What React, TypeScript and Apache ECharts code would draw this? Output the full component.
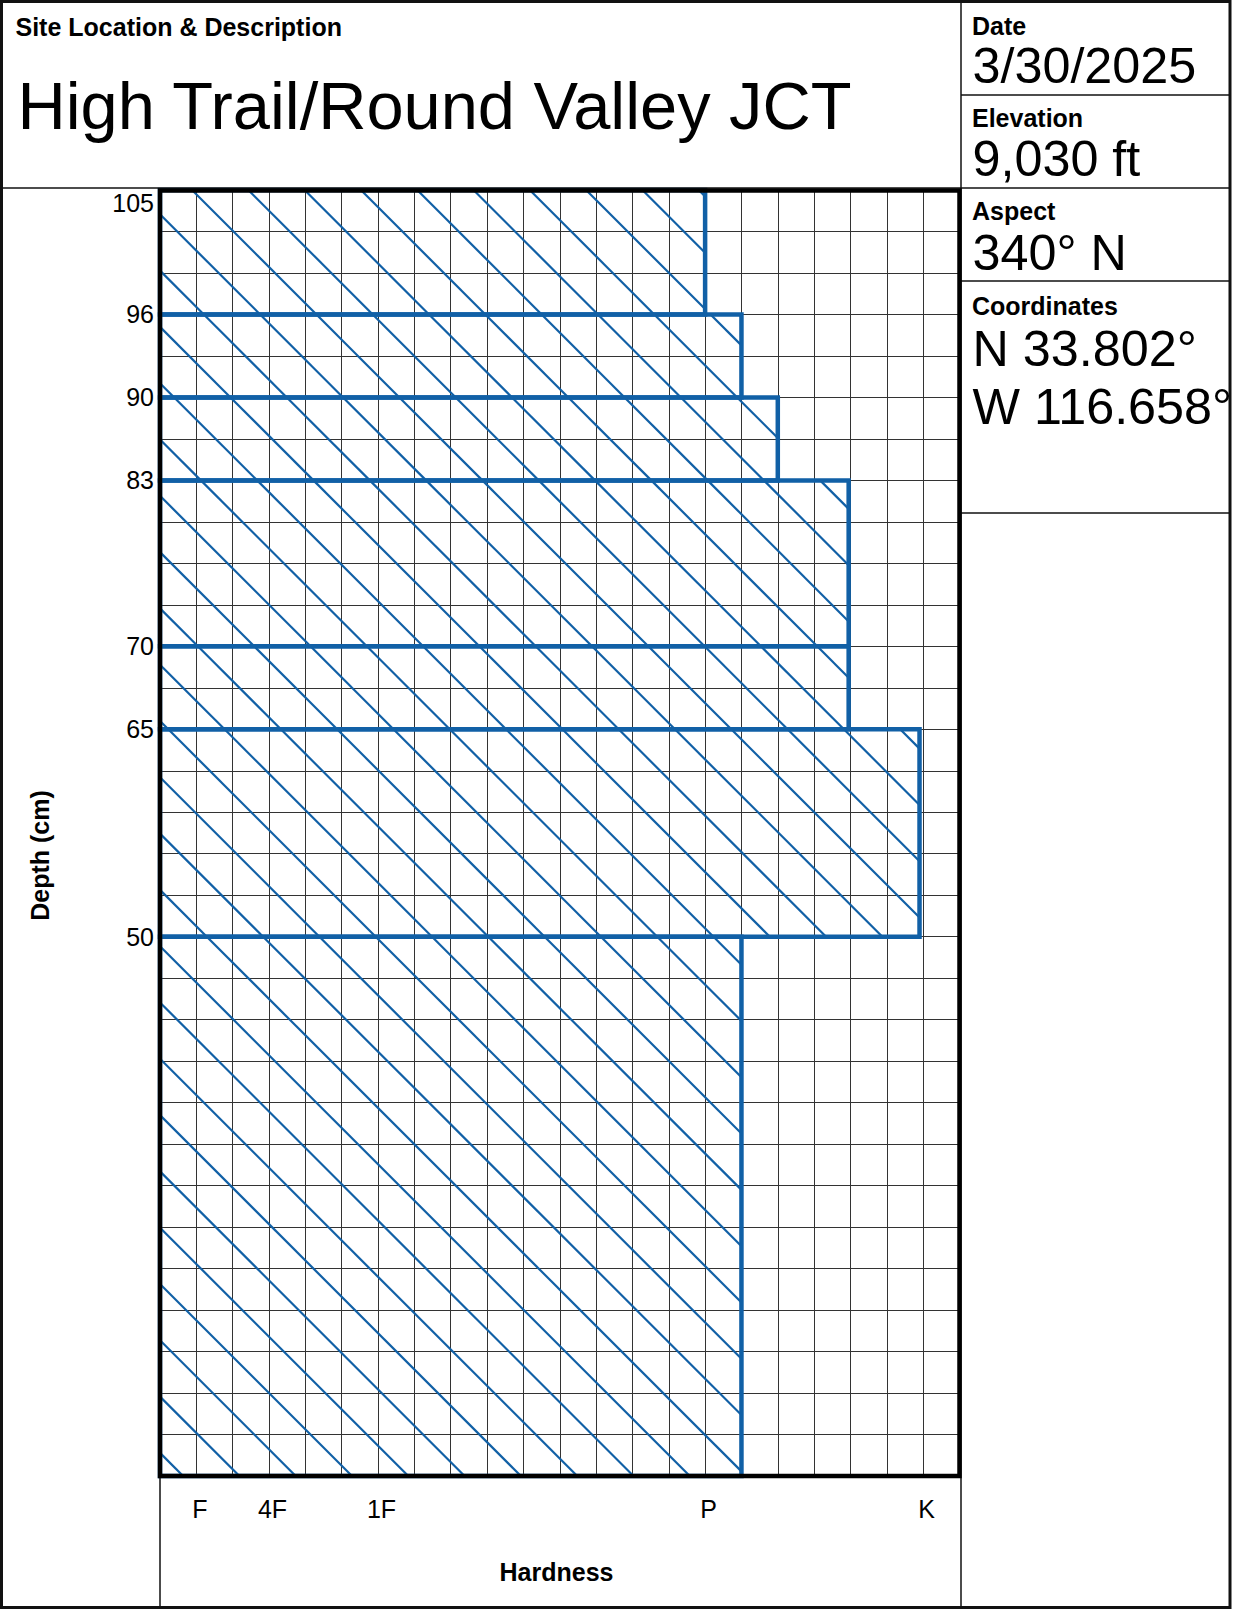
import React, { useEffect, useRef } from 'react';
import * as echarts from 'echarts';

const FONT = '"Liberation Sans", Arial, Helvetica, sans-serif';
const BLUE = '#1160a6';
const GRID_LINE = '#333333';

// Header texts
const siteLabel = 'Site Location & Description';
const siteName = 'High Trail/Round Valley JCT';
const infoLabels = ['Date', 'Elevation', 'Aspect', 'Coordinates'];
const infoValues = [['3/30/2025'], ['9,030 ft'], ['340° N'], ['N 33.802°', 'W 116.658°']];

// Snow layers, top to bottom (depth in cm at the top of each layer, its rows on the profile grid, hardness in grid columns)
const layerTopDepth = [105, 96, 90, 83, 70, 65, 50];
const layerTopRow = [0, 3, 5, 7, 11, 13, 18];
const layerBottomRow = [3, 5, 7, 11, 13, 18, 31];
const layerHardness = [15, 16, 17, 18.95, 18.95, 20.9, 16];

// Hardness axis tick labels
const hardnessTickValues = [1, 3, 6, 15, 21];
const hardnessTickLabels = ['F', '4F', '1F', 'P', 'K'];

const GRID_COLS = 22;
const GRID_ROWS = 31;

const HATCH_SPACING = 56.3;
const HATCH_PHASE = 32;

function renderLayer(params: any, api: any) {
  const top = api.value(0);
  const bottom = api.value(1);
  const h = api.value(2);
  const p0 = api.coord([0, top]);
  const p1 = api.coord([h, bottom]);
  const x0 = Math.min(p0[0], p1[0]);
  const x1 = Math.max(p0[0], p1[0]);
  const y0 = Math.min(p0[1], p1[1]);
  const y1 = Math.max(p0[1], p1[1]);
  const origin = api.coord([0, 0]);
  const c0 = origin[0] - origin[1] + HATCH_PHASE;
  const children: any[] = [];
  const kMin = Math.ceil((x0 - y1 - c0) / HATCH_SPACING);
  const kMax = Math.floor((x1 - y0 - c0) / HATCH_SPACING);
  for (let k = kMin; k <= kMax; k++) {
    const c = c0 + k * HATCH_SPACING;
    const ys = Math.max(y0, x0 - c);
    const ye = Math.min(y1, x1 - c);
    if (ye > ys) {
      children.push({
        type: 'line',
        shape: { x1: ys + c, y1: ys, x2: ye + c, y2: ye },
        style: { stroke: BLUE, lineWidth: 2.2 },
      });
    }
  }
  children.push({
    type: 'rect',
    shape: { x: x0, y: y0, width: x1 - x0, height: y1 - y0 },
    style: { fill: 'none', stroke: BLUE, lineWidth: 4.5 },
  });
  return { type: 'group', children };
}

function txt(text: string, x: number, y: number, size: number, bold: boolean, extra: any = {}) {
  return {
    type: 'text',
    x,
    y,
    z: 110,
    silent: true,
    ...extra,
    style: {
      text,
      fill: '#000',
      fontSize: size,
      lineHeight: size,
      fontWeight: bold ? 'bold' : 'normal',
      fontFamily: FONT,
      textAlign: extra.align || 'left',
      textVerticalAlign: 'middle',
    },
  };
}

function ln(x1: number, y1: number, x2: number, y2: number, w: number, color = '#111') {
  return {
    type: 'line',
    z: 100,
    silent: true,
    shape: { x1, y1, x2, y2 },
    style: { stroke: color, lineWidth: w },
  };
}

export default function App() {
  const ref = useRef<HTMLDivElement>(null);

  useEffect(() => {
    if (!ref.current) return;
    const chart = echarts.init(ref.current, null, { renderer: 'svg' });

    const data = layerTopDepth.map((_, i) => [layerTopRow[i], layerBottomRow[i], layerHardness[i]]);

    const infoBaseY = [26.3, 117.5, 210.8, 305.8];
    const valueY = [[65.7], [158], [252], [348.6, 406.4]];
    const infoTexts: any[] = [];
    infoLabels.forEach((lab, i) => {
      infoTexts.push(txt(lab, 972, infoBaseY[i], 25, true));
      infoValues[i].forEach((v, j) => infoTexts.push(txt(v, 972.5, valueY[i][j], 50.3, false)));
    });

    const option: any = {
      animation: false,
      backgroundColor: '#fff',
      grid: { left: 160, top: 190, width: 799.5, height: 1286 },
      xAxis: {
        type: 'value',
        min: 0,
        max: GRID_COLS,
        interval: 1,
        axisLine: { show: false },
        axisTick: { show: false },
        splitLine: { show: true, lineStyle: { color: GRID_LINE, width: 1 } },
        axisLabel: {
          show: true,
          margin: 20,
          fontSize: 25,
          lineHeight: 25,
          fontFamily: FONT,
          color: '#000',
          padding: [0, 0, 0, 7],
          formatter: (v: number) => {
            const i = hardnessTickValues.indexOf(v);
            return i < 0 ? '' : hardnessTickLabels[i];
          },
        },
      },
      yAxis: {
        type: 'value',
        inverse: true,
        min: 0,
        max: GRID_ROWS,
        interval: 1,
        axisLine: { show: false },
        axisTick: { show: false },
        splitLine: { show: true, lineStyle: { color: GRID_LINE, width: 1 } },
        axisLabel: {
          show: true,
          margin: 6,
          fontSize: 25,
          lineHeight: 25,
          fontFamily: FONT,
          color: '#000',
          formatter: (v: number) => {
            const i = layerTopRow.indexOf(v);
            if (i < 0) return '';
            return i === 0 ? `{first|${layerTopDepth[i]}}` : String(layerTopDepth[i]);
          },
          rich: {
            first: { fontSize: 25, lineHeight: 25, fontFamily: FONT, color: '#000', padding: [26, 0, 0, 0] },
          },
        },
      },
      series: [
        {
          type: 'custom',
          renderItem: renderLayer,
          data,
          encode: { x: 2, y: [0, 1] },
          clip: false,
          z: 5,
          silent: true,
        },
      ],
      graphic: [
        // page frame and panel separators
        ln(0, 188, 961, 188, 1.5),
        ln(961, 0, 961, 1608, 1.5),
        ln(961, 95, 1230, 95, 1.5),
        ln(961, 188, 1230, 188, 1.5),
        ln(961, 281, 1230, 281, 1.5),
        ln(961, 513, 1230, 513, 1.5),
        ln(160, 1476, 160, 1608, 1.5),
        {
          type: 'rect',
          z: 101,
          silent: true,
          shape: { x: 1.5, y: 1.5, width: 1228.5, height: 1606 },
          style: { fill: 'none', stroke: '#111', lineWidth: 3 },
        },
        // plot frame
        {
          type: 'rect',
          z: 102,
          silent: true,
          shape: { x: 160, y: 190.5, width: 799.5, height: 1285.5 },
          style: { fill: 'none', stroke: '#000', lineWidth: 4.5 },
        },
        txt(siteLabel, 15.5, 27, 25, true),
        txt(siteName, 17.5, 105.5, 66.8, false),
        ...infoTexts,
        txt('Depth (cm)', 39.6, 855.5, 25, true, { rotation: Math.PI / 2, align: 'center' }),
        txt('Hardness', 556.5, 1571.8, 25, true, { align: 'center' }),
      ],
    };

    chart.setOption(option);
    return () => chart.dispose();
  }, []);

  return (
    <div
      ref={ref}
      style={{ position: 'absolute', left: 0, top: 0, width: 1235, height: 1610, background: '#fff' }}
    />
  );
}
